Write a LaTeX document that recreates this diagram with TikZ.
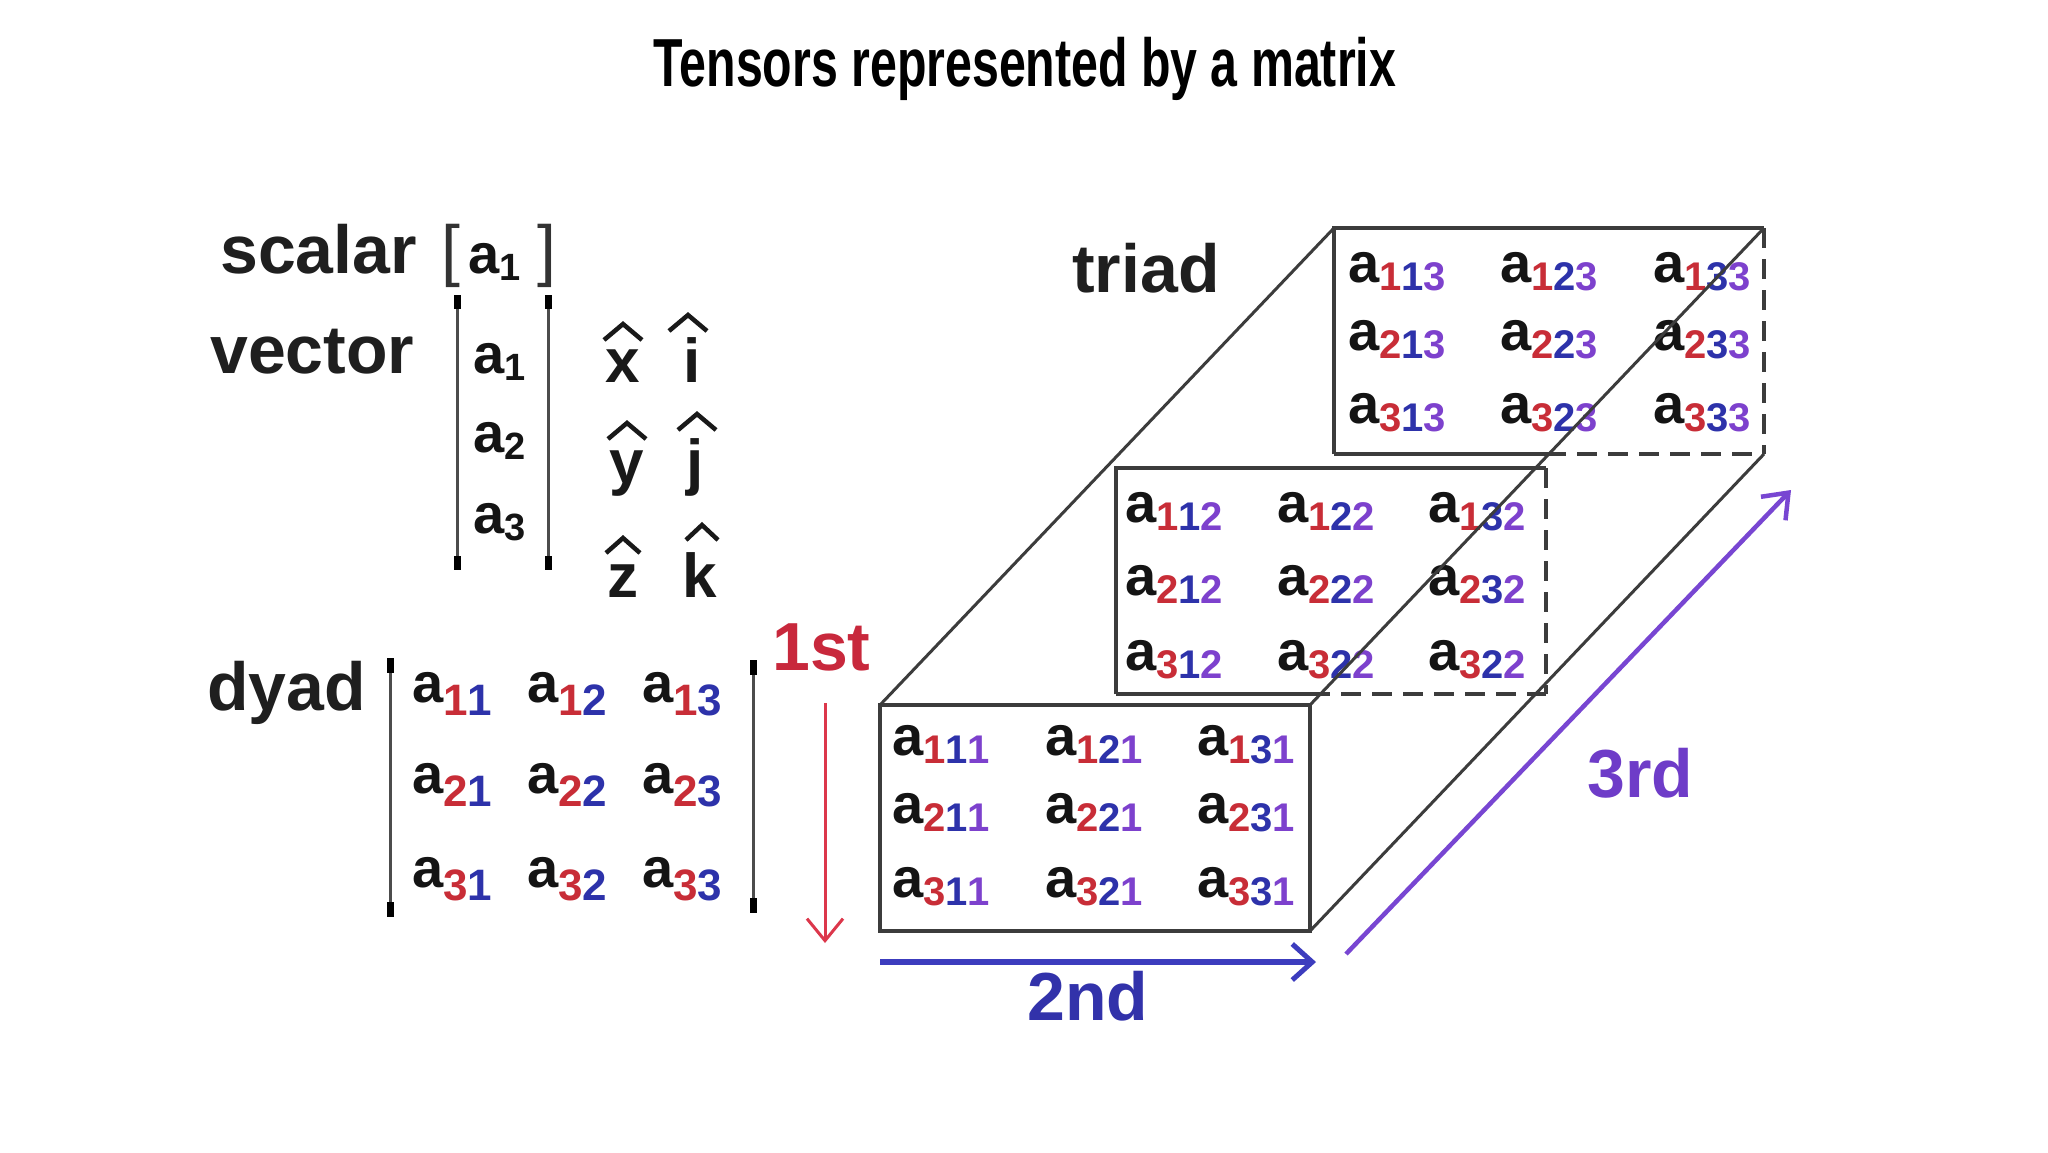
\documentclass[tikz,border=0pt]{standalone}
\usepackage{fontspec}
\usepackage{graphicx}
\setmainfont{Liberation Sans}
\usetikzlibrary{arrows.meta}
\definecolor{cR}{RGB}{200,45,55}
\definecolor{cB}{RGB}{45,50,170}
\definecolor{cP}{RGB}{125,65,205}
\definecolor{lineG}{RGB}{60,60,60}
\definecolor{arR}{RGB}{220,55,75}
\definecolor{arB}{RGB}{60,60,190}
\definecolor{arP}{RGB}{120,70,210}
\definecolor{txtR}{RGB}{200,40,60}
\definecolor{txtB}{RGB}{50,50,170}
\definecolor{txtP}{RGB}{110,60,200}
\newcommand\myA{\fontsize{56}{60}\selectfont\bfseries a}
\newcommand\mySub[3]{\raisebox{-#1pt}{\fontsize{#2}{#2}\selectfont\bfseries #3}}
\newcommand\myDy[2]{\myA\mySub{13}{44}{\textcolor{cR}{#1}\textcolor{cB}{#2}}}
\newcommand\myTr[3]{\myA\mySub{8}{40}{\textcolor{cR}{#1}\textcolor{cB}{#2}\textcolor{cP}{#3}}}
\newcommand\myVe[1]{\myA\raisebox{-7pt}{\fontsize{38}{38}\selectfont\bfseries #1}}
\begin{document}
\begin{tikzpicture}[x=1pt,y=-1pt,
  lbl/.style={font=\fontsize{68}{72}\selectfont\bfseries, inner sep=0, anchor=base west, text={black!88}},
  ent/.style={inner sep=0, anchor=base west, text={black!92}},
  uv/.style={font=\fontsize{62}{66}\selectfont\bfseries, inner sep=0, anchor=base, text={black!90}},
  hat/.style={draw=black!90, line width=4.5pt, line join=miter},
  brk/.style={draw=black!70, line width=3pt},
  brkend/.style={draw=black, line width=7pt},
  boxnode/.style={inner sep=0, outer sep=0, minimum width=430pt, minimum height=226pt},
  boxline/.style={draw=lineG, line width=3.8pt},
  hidline/.style={draw=lineG, line width=3.8pt, dash pattern=on 20pt off 11pt},
  diagline/.style={draw=lineG, line width=3pt},
  redarr/.style={draw=arR, line width=3pt, -{Straight Barb[length=22pt,width=36pt,line width=3pt]}},
  bluearr/.style={draw=arB, line width=6pt, -{Straight Barb[length=20pt,width=36pt,line width=5pt]}},
  purparr/.style={draw=arP, line width=4.5pt, -{Straight Barb[length=22pt,width=34pt,line width=4.5pt]}}
]
\fill[white] (0,0) rectangle (2048,1152);
\useasboundingbox (0,0) rectangle (2048,1152);

% title
\node[anchor=base, inner sep=0] (title) at (1025,86)
  {\scalebox{0.71}[1]{\fontsize{68}{72}\selectfont\bfseries Tensors represented by a matrix}};

% scalar
\node[lbl] (scal) at (220,273) {scalar};
\node[ent, font=\fontsize{68}{72}\selectfont, text={black!80}] (sbl) at (441,273) {[};
\node[ent] (sa) at (468,273) {\myVe{1}};
\node[ent, font=\fontsize{68}{72}\selectfont, text={black!80}] (sbr) at (537,273) {]};

% vector
\node[lbl] (vec) at (210,373) {vector};
\node[ent] (va1) at (473,373) {\myVe{1}};
\node[ent] (va2) at (473,452) {\myVe{2}};
\node[ent] (va3) at (473,533) {\myVe{3}};
\draw[brk] (457,295) -- (457,570);
\draw[brkend] (457,295) -- (457,309);
\draw[brkend] (457,556) -- (457,570);
\draw[brk] (548,295) -- (548,570);
\draw[brkend] (548,295) -- (548,309);
\draw[brkend] (548,556) -- (548,570);

% unit vectors
\node[uv] (ux) at (623,382) {x};
\node[uv] (ui) at (692,382) {i};
\node[uv] (uy) at (627,483) {y};
\node[uv] (uj) at (695,483) {j};
\node[uv] (uz) at (623,597) {z};
\node[uv] (uk) at (700,597) {k};
\draw[hat] (604,340) -- (623,324) -- (642,340);
\draw[hat] (669,331) -- (688,315) -- (707,331);
\draw[hat] (608,439) -- (627,423) -- (646,439);
\draw[hat] (678,430) -- (697,414) -- (716,430);
\draw[hat] (606,553) -- (623,538) -- (640,553);
\draw[hat] (686,540) -- (702,525) -- (718,540);

% dyad
\node[lbl] (dy) at (207,710) {dyad};
\draw[brk] (390,658) -- (390,917);
\draw[brkend] (390,658) -- (390,673);
\draw[brkend] (390,902) -- (390,917);
\draw[brk] (753,660) -- (753,913);
\draw[brkend] (753,660) -- (753,675);
\draw[brkend] (753,898) -- (753,913);
\foreach \r/\yy in {1/702,2/793,3/887}{
  \foreach \c/\xx in {1/412,2/527,3/642}{
    \node[ent] (d\r\c) at (\xx,\yy) {\myDy{\r}{\c}};
  }
}

% 1st
\node[lbl, text=txtR] (first) at (772,670) {1st};
\coordinate (r1) at (825,703);
\coordinate (r2) at (825,943);
\draw[redarr] (r1) -- (r2);

% triad boxes
\node[boxnode] (F) at (1095,818) {};
\node[boxnode] (M) at (1331,581) {};
\node[boxnode] (B) at (1549,341) {};

% back box
\draw[boxline] (B.south west) -- (B.north west) -- (B.north east);
\draw[boxline] (B.south west) -- (M.north east |- B.south);
\draw[hidline] (M.north east |- B.south) -- (B.south east);
\draw[hidline] (B.north east) -- (B.south east);
% middle box
\draw[boxline] (M.south west) -- (M.north west) -- (M.north east);
\draw[boxline] (M.south west) -- (F.north east |- M.south);
\draw[hidline] (F.north east |- M.south) -- (M.south east);
\draw[hidline] (M.north east) -- (M.south east);
% front box
\draw[boxline] (F.north west) rectangle (F.south east);

\node[lbl] (triad) at (1072,292) {triad};

% front entries
\foreach \r/\yy in {1/755,2/823,3/897}{
  \foreach \c/\xx in {1/892,2/1045,3/1197}{
    \node[ent] (f\r\c) at (\xx,\yy) {\myTr{\r}{\c}{1}};
  }
}
% middle entries
\foreach \n/\p/\q/\xx/\yy in {11/1/1/1125/522, 12/1/2/1277/522, 13/1/3/1428/522,
                               21/2/1/1125/595, 22/2/2/1277/595, 23/2/3/1428/595,
                               31/3/1/1125/670, 32/3/2/1277/670, 33/3/2/1428/670}{
  \node[ent] (m\n) at (\xx,\yy) {\myTr{\p}{\q}{2}};
}
% back entries
\foreach \r/\yy in {1/282,2/350,3/423}{
  \foreach \c/\xx in {1/1348,2/1500,3/1653}{
    \node[ent] (b\r\c) at (\xx,\yy) {\myTr{\r}{\c}{3}};
  }
}

% diagonals
\draw[diagline] (F.north west) -- (B.north west);
\draw[diagline] (F.north east) -- (B.north east);
\draw[diagline] (F.south east) -- (B.south east);

% 2nd
\coordinate (s1) at (880,962);
\coordinate (s2) at (1316,962);
\draw[bluearr] (s1) -- (s2);
\node[lbl, text=txtB] (second) at (1027,1020) {2nd};

% 3rd
\coordinate (t1) at (1346,954);
\coordinate (t2) at (1791,490);
\draw[purparr] (t1) -- (t2);
\node[lbl, text=txtP] (third) at (1587,797) {3rd};
\end{tikzpicture}
\end{document}
